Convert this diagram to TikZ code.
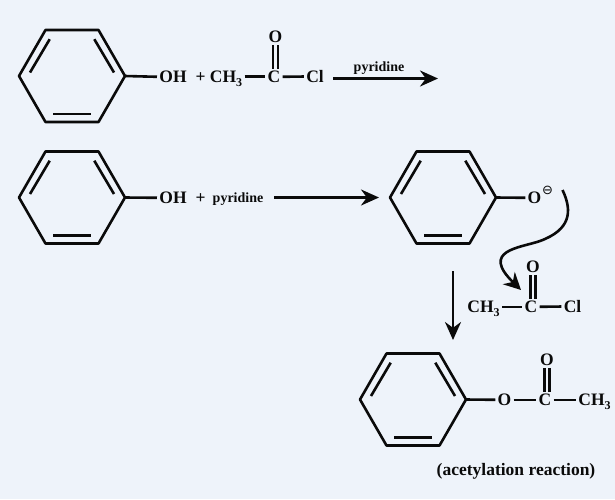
\documentclass[tikz,border=0pt]{standalone}
\usepackage{fontspec}
\setmainfont{Liberation Serif}
\newfontfamily\symfont{DejaVu Sans}
\usetikzlibrary{arrows.meta}
\definecolor{bgcol}{HTML}{EEF3FA}
\definecolor{inkcol}{HTML}{0A0A0A}
\newcommand{\subthree}{\raisebox{-3.5pt}{\fontsize{12}{12}\selectfont 3}}
\newcommand{\benzene}[3]{%
  \coordinate (#1) at (#2+53,#3);
  \draw[bondline,line join=round] (#2-53,#3) -- (#2-26.5,#3-46) -- (#2+26.5,#3-46) -- (#1) -- (#2+26.5,#3+46) -- (#2-26.5,#3+46) -- cycle;
  \draw[bondline] (#2-42,#3-3.5) -- (#2-22.3,#3-36.8);
  \draw[bondline] (#2+42,#3-3.5) -- (#2+22.3,#3-36.8);
  \draw[bondline] (#2-19,#3+37.8) -- (#2+19,#3+37.8);
}
\newcommand{\dbl}[2]{%
  \draw[bondline] ([xshift=-2.5pt]#1.south) -- ([xshift=-2.5pt]#1.south |- #2.north);
  \draw[bondline] ([xshift=2.5pt]#1.south) -- ([xshift=2.5pt]#1.south |- #2.north);
}
\tikzset{
  bondline/.style={draw=inkcol,line width=2.6pt},
  lbl/.style={anchor=base,inner sep=0pt,outer sep=2.4pt,text=inkcol,font=\fontsize{17.5}{18}\selectfont\bfseries},
  lblsmall/.style={lbl,font=\fontsize{14}{15}\selectfont\bfseries},
  rxnarrow/.style={draw=inkcol,line width=2.6pt,-{Stealth[length=18pt,width=16pt]}},
}
\begin{document}
\begin{tikzpicture}[x=1pt,y=-1pt]
\path[fill=bgcol] (0,0) rectangle (615,499);
\useasboundingbox (0,0) rectangle (615,499);

% Row 1
\benzene{ra}{72}{76}
\node[lbl] (oha) at (173,82.5) {OH};
\node[lbl] (plusa) at (200.5,82.5) {+};
\node[lbl] (cha) at (226,82.5) {CH\subthree};
\node[lbl] (ca) at (274,82.5) {C};
\node[lbl] (cla) at (315,82.5) {Cl};
\node[lbl] (oa) at (275.5,42.5) {O};
\node[lblsmall] (pya) at (379,71) {pyridine};
\coordinate (arastart) at (333,78.5);
\coordinate (araend) at (438,78.5);
\draw[bondline] (ra) -- (oha.west);
\draw[bondline] (cha.east |- ca.west) -- (ca.west);
\draw[bondline] (ca.east) -- (cla.west);
\dbl{oa}{ca}
\draw[rxnarrow] (arastart) -- (araend);

% Row 2
\benzene{rb}{72}{197.5}
\node[lbl] (ohb) at (173,203.5) {OH};
\node[lbl] (plusb) at (200.5,203.5) {+};
\node[lblsmall] (pyb) at (238,202) {pyridine};
\draw[bondline] (rb) -- (ohb.west);
\coordinate (arbstart) at (274,197.5);
\coordinate (arbend) at (379,197.5);
\draw[rxnarrow] (arbstart) -- (arbend);

\benzene{rc}{443}{197.5}
\node[lbl] (oc) at (534.5,203.5) {O};
\node[inner sep=0pt,text=inkcol,font=\symfont\fontsize{13}{13}\selectfont] (minus) at (547.5,190) {⊖};
\draw[bondline] (rc) -- (oc.west);

% Acyl chloride
\node[lbl] (chd) at (483.5,312.5) {CH\subthree};
\node[lbl] (cd) at (531,312.5) {C};
\node[lbl] (cld) at (572.5,312.5) {Cl};
\node[lbl] (od) at (533,272.5) {O};
\draw[bondline] (chd.east |- cd.west) -- (cd.west);
\draw[bondline] (cd.east) -- (cld.west);
\dbl{od}{cd}

% Curved arrow
\coordinate (cvstart) at (562.5,190);
\coordinate (cvend) at (521,290);
\draw[draw=inkcol,line width=2.6pt,-{Stealth[length=17pt,width=17pt]}] (cvstart) .. controls (573,212) and (570,230) .. (540,241) .. controls (520,248) and (480,250) .. (cvend);

% Down arrow
\coordinate (ardstart) at (453,271);
\coordinate (ardend) at (453,340);
\draw[rxnarrow] (ardstart) -- (ardend);

% Product
\benzene{re}{413}{399.5}
\node[lbl] (oe) at (504.5,405.5) {O};
\node[lbl] (ce) at (545,405.5) {C};
\node[lbl] (che) at (594.5,405.5) {CH\subthree};
\node[lbl] (ote) at (547,365.5) {O};
\draw[bondline] (re) -- (oe.west);
\draw[bondline] (oe.east) -- (ce.west);
\draw[bondline] (ce.east) -- (che.west |- ce.east);
\dbl{ote}{ce}
\node[lbl] (cap) at (516,475) {(acetylation reaction)};
\end{tikzpicture}
\end{document}
